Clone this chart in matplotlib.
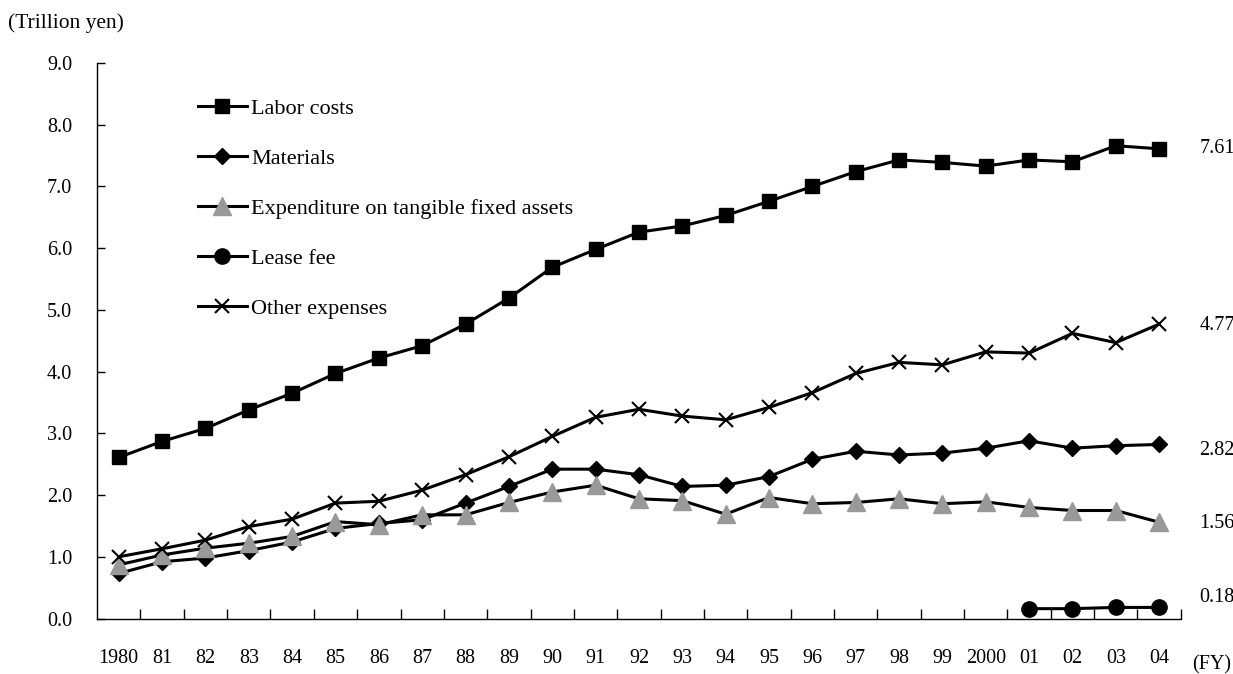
import matplotlib
matplotlib.use("Agg")
import matplotlib.pyplot as plt
import numpy as np

# fiscal years on the x axis
years = ['1980', '81', '82', '83', '84', '85', '86', '87', '88', '89',
         '90', '91', '92', '93', '94', '95', '96', '97', '98', '99',
         '2000', '01', '02', '03', '04']

# expenses in trillion yen
labor = [2.61, 2.87, 3.08, 3.38, 3.65, 3.97, 4.22, 4.42, 4.77, 5.19,
         5.69, 5.98, 6.26, 6.36, 6.53, 6.76, 7.00, 7.24, 7.43, 7.39,
         7.33, 7.43, 7.40, 7.66, 7.61]
materials = [0.73, 0.92, 0.98, 1.10, 1.24, 1.46, 1.54, 1.60, 1.87, 2.14,
             2.42, 2.42, 2.33, 2.14, 2.16, 2.30, 2.58, 2.71, 2.65, 2.68,
             2.76, 2.88, 2.76, 2.80, 2.82]
tangible = [0.87, 1.03, 1.14, 1.22, 1.33, 1.57, 1.52, 1.68, 1.68, 1.88,
            2.05, 2.16, 1.94, 1.91, 1.69, 1.96, 1.86, 1.88, 1.94, 1.86,
            1.89, 1.80, 1.75, 1.75, 1.56]
# lease fee only reported from FY2001
lease = [np.nan] * 21 + [0.16, 0.16, 0.18, 0.18]
other = [1.00, 1.13, 1.27, 1.49, 1.61, 1.87, 1.90, 2.08, 2.33, 2.62,
         2.95, 3.26, 3.39, 3.28, 3.22, 3.42, 3.66, 3.97, 4.15, 4.11,
         4.32, 4.30, 4.62, 4.47, 4.77]

plt.rcParams['font.family'] = ['Liberation Serif', 'DejaVu Serif']

fig = plt.figure(figsize=(12.33, 6.74), dpi=100)
ax = fig.add_axes([0.0787, 0.0823, 0.879, 0.8242])

x = np.arange(len(years))
lw = 2.2
gray = '#999999'

ax.plot(x, labor, color='black', lw=lw, marker='s', ms=9.5, mec='black',
        label='Labor costs')
ax.plot(x, materials, color='black', lw=lw, marker='D', ms=8.5, mec='black',
        label='Materials')
ax.plot(x, tangible, color='black', lw=lw, marker='^', ms=12.5, mfc=gray,
        mec=gray, label='Expenditure on tangible fixed assets')
ax.plot(x, lease, color='black', lw=lw, marker='o', ms=11, mec='black',
        label='Lease fee')
ax.plot(x, other, color='black', lw=lw, marker='x', ms=10, mew=1.5,
        mec='black', label='Other expenses')

# FY2004 values printed to the right of each line
end_vals = [labor[-1], other[-1], materials[-1], tangible[-1], lease[-1]]
end_dy = [0, -1, -4, -1, 7]
for v, dy in zip(end_vals, end_dy):
    ax.annotate(f'{v:.2f}', xy=(x[-1], v), xytext=(29, dy),
                textcoords='offset points', ha='left', va='center',
                fontsize=14.5, annotation_clip=False)

ax.set_xlim(-0.5, len(years) - 0.5)
ax.set_ylim(0, 9)
ax.set_yticks(np.arange(0, 9.5, 1.0))
ax.set_yticklabels([f'{v:.1f}' for v in np.arange(0, 9.5, 1.0)])
ax.set_xticks(x)
ax.set_xticklabels(years)
ax.set_xticks(np.arange(0.5, len(years), 1.0), minor=True)

ax.tick_params(axis='x', which='major', length=0, pad=22, labelsize=14.5)
ax.tick_params(axis='x', which='minor', direction='in', length=7, width=1)
ax.tick_params(axis='y', direction='in', length=6, width=1, pad=18,
               labelsize=14.5)

for side in ['top', 'right']:
    ax.spines[side].set_visible(False)
for side in ['left', 'bottom']:
    ax.spines[side].set_linewidth(1.0)

fig.text(8 / 1233, 1 - 23 / 674, '(Trillion yen)', fontsize=15.5,
         ha='left', va='center')
fig.text(1231 / 1233, 1 - 665 / 674, '(FY)', fontsize=14.5,
         ha='right', va='center')

ax.legend(loc='upper left', bbox_to_anchor=(198 / 1233, 1 - 98 / 674),
          bbox_transform=fig.transFigure, frameon=False, fontsize=16,
          handlelength=2.2, handletextpad=0.2, labelspacing=1.33,
          borderpad=0, borderaxespad=0)

fig.savefig('out.png', dpi=100)
